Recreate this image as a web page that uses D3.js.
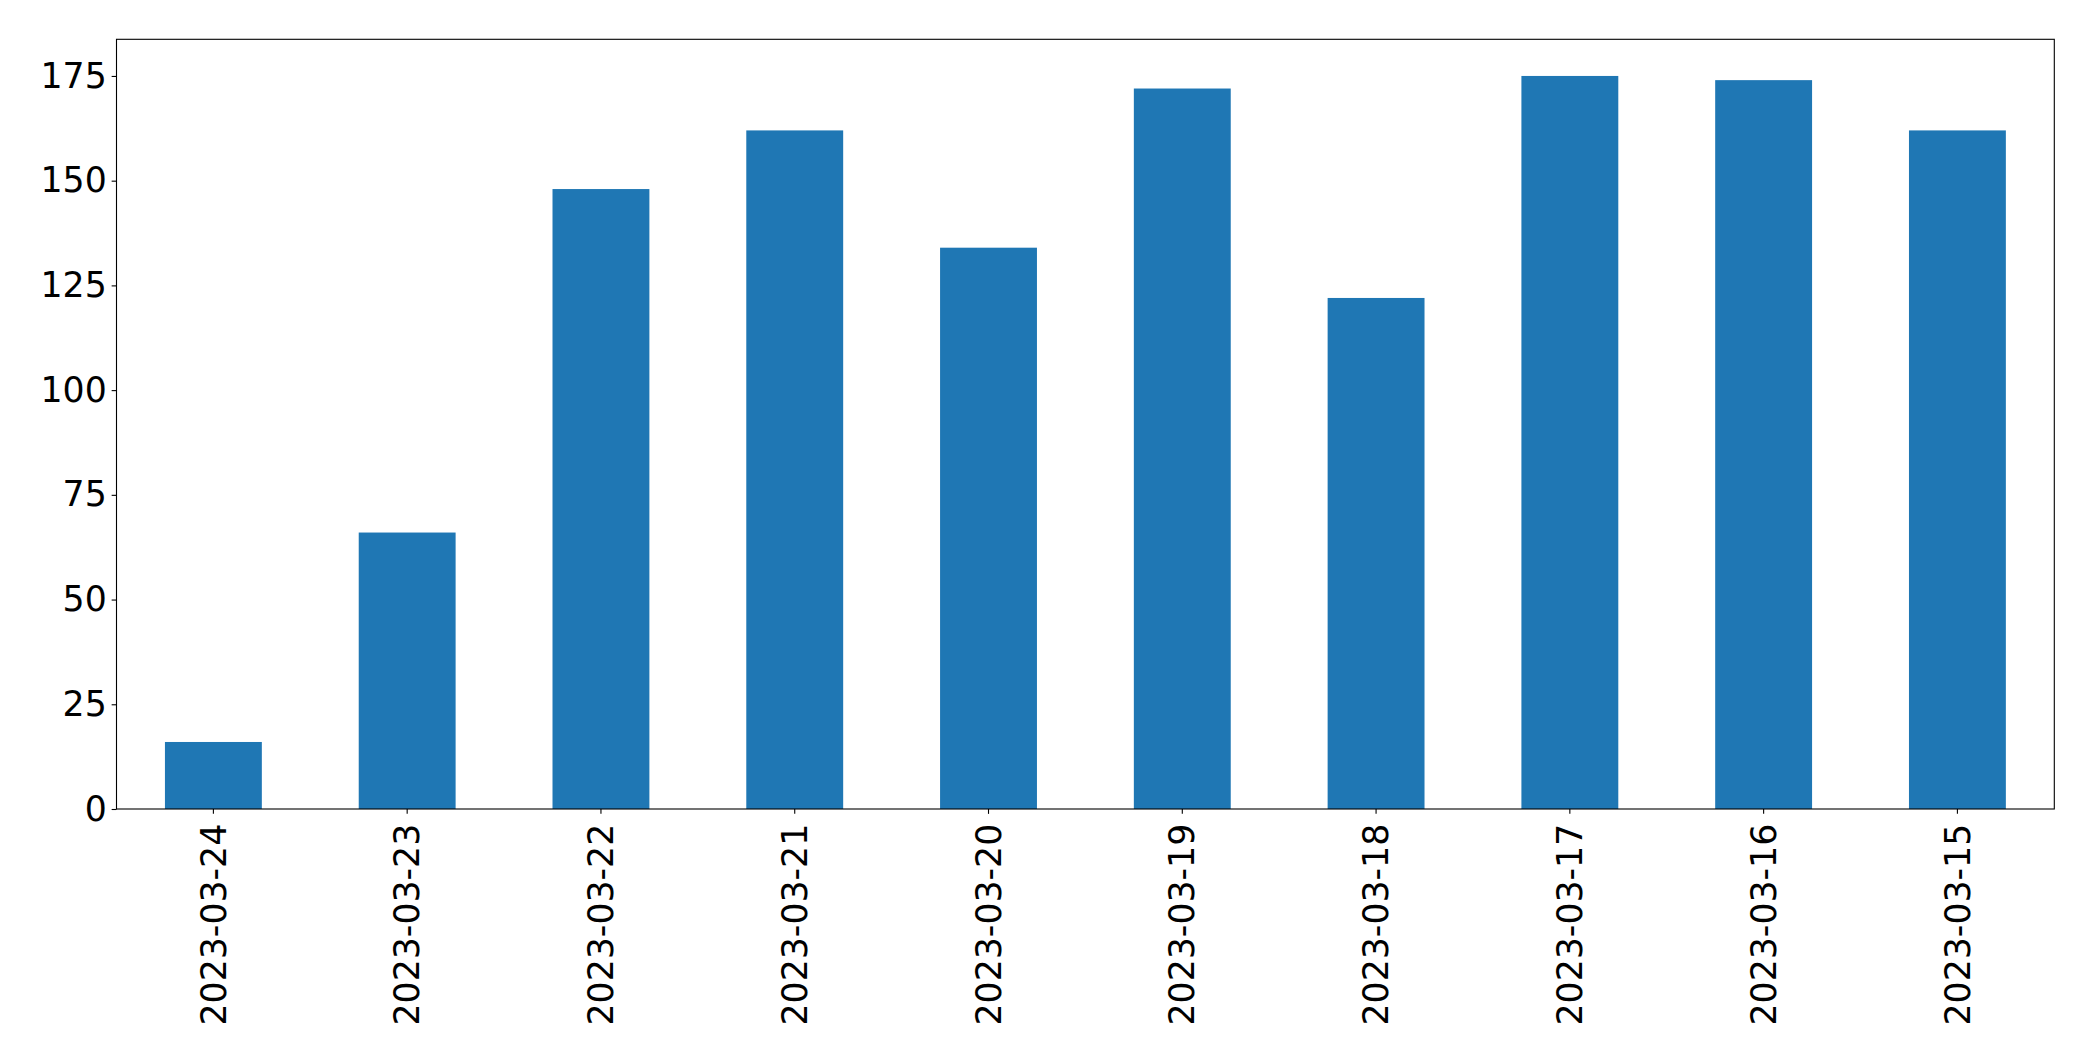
<!DOCTYPE html>
<html>
<head>
<meta charset="utf-8">
<script src="https://cdn.jsdelivr.net/npm/d3@7"></script>
<style>
    body { margin: 0; background: white; }
    text { font-family: "DejaVu Sans", sans-serif; }
</style>
</head>
<body>
<svg id="chart"></svg>
<script>
var dates = ["2023-03-24", "2023-03-23", "2023-03-22", "2023-03-21", "2023-03-20",
             "2023-03-19", "2023-03-18", "2023-03-17", "2023-03-16", "2023-03-15"];
var counts = [16, 66, 148, 162, 134, 172, 122, 175, 174, 162];
var yTicks = [0, 25, 50, 75, 100, 125, 150, 175];

var width = 2093,
    height = 1061;

var margin = { top: 39.3, right: 2093 - 2054.3, bottom: 1061 - 809, left: 116.5 };
var innerW = width - margin.left - margin.right,
    innerH = height - margin.top - margin.bottom;

var svg = d3.select("#chart")
    .attr("width", width)
    .attr("height", height);

var g = svg.append("g")
    .attr("transform", "translate(" + margin.left + "," + margin.top + ")");

var x = d3.scaleBand()
    .domain(dates)
    .range([0, innerW])
    .paddingInner(0.5)
    .paddingOuter(0.25);

var y = d3.scaleLinear()
    .domain([0, d3.max(counts) * 1.05])
    .range([innerH, 0]);

g.selectAll("rect.bar")
    .data(dates)
    .enter()
    .append("rect")
    .attr("class", "bar")
    .attr("x", function (d) { return x(d); })
    .attr("width", x.bandwidth())
    .attr("y", function (d, i) { return y(counts[i]); })
    .attr("height", function (d, i) { return innerH - y(counts[i]); })
    .attr("fill", "#1f77b4");

var fontSize = 34.72;
var tickLen = 4.86;
var pad = 4.86;

// y axis
var yAxis = g.append("g")
    .call(d3.axisLeft(y).tickValues(yTicks).tickSize(tickLen).tickPadding(pad));
yAxis.select(".domain").remove();
yAxis.selectAll("line").attr("stroke", "black").attr("stroke-width", 1.1);
yAxis.selectAll("text")
    .attr("font-size", fontSize)
    .attr("fill", "black")
    .attr("font-family", "DejaVu Sans");

// x axis, labels turned upright
var xAxis = g.append("g")
    .attr("transform", "translate(0," + innerH + ")")
    .call(d3.axisBottom(x).tickSize(tickLen).tickPadding(pad));
xAxis.select(".domain").remove();
xAxis.selectAll("line").attr("stroke", "black").attr("stroke-width", 1.1);
xAxis.selectAll("text")
    .attr("font-size", fontSize)
    .attr("fill", "black")
    .attr("font-family", "DejaVu Sans")
    .attr("text-anchor", "end")
    .attr("dy", "0.35em")
    .attr("transform", "translate(0," + (tickLen + pad + 5) + ") rotate(-90)")
    .attr("x", 0)
    .attr("y", 0);

// frame
g.append("rect")
    .attr("x", 0)
    .attr("y", 0)
    .attr("width", innerW)
    .attr("height", innerH)
    .attr("fill", "none")
    .attr("stroke", "black")
    .attr("stroke-width", 1.1);
</script>
</body>
</html>
